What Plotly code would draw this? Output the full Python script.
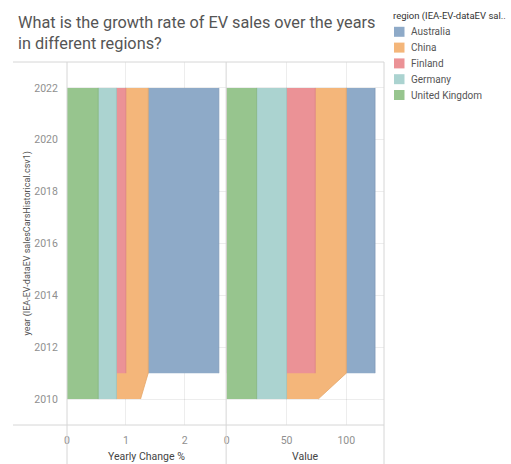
import plotly.graph_objects as go

# ---- data -------------------------------------------------------------
years = list(range(2010, 2023))

regions = ["Australia", "China", "Finland", "Germany", "United Kingdom"]
colors = ["#8eaac8", "#f4b67a", "#eb9296", "#abd3d0", "#97c58e"]
edges = ["#7f9bb9", "#e5a76b", "#dc8387", "#9cc4c1", "#88b67f"]

# Yearly Change % per region (None = no record that year)
yc_australia = [None] + [1.20] * 12
yc_china = [0.41] + [0.38] * 12
yc_finland = [None] + [0.16] * 12
yc_germany = [0.31] * 13
yc_uk = [0.53] * 13

# Value per region
val_australia = [None] + [24] * 12
val_china = [26.5] + [26] * 12
val_finland = [None] + [24] * 12
val_germany = [25] * 13
val_uk = [25] * 13

yearly_change = {
    "Australia": yc_australia, "China": yc_china, "Finland": yc_finland,
    "Germany": yc_germany, "United Kingdom": yc_uk,
}
value = {
    "Australia": val_australia, "China": val_china, "Finland": val_finland,
    "Germany": val_germany, "United Kingdom": val_uk,
}

# stacking order from the axis outward
stack_order = ["United Kingdom", "Germany", "Finland", "China", "Australia"]


def cumulative(table):
    """Running totals per year along the stack; None where a region is absent."""
    out = {}
    running = [0.0] * len(years)
    for r in stack_order:
        col = []
        for i, v in enumerate(table[r]):
            if v is None:
                col.append(None)
            else:
                running[i] += v
                col.append(running[i])
        out[r] = col
    return out


cum_yc = cumulative(yearly_change)
cum_val = cumulative(value)

# ---- figure -----------------------------------------------------------
W, H = 511, 464
ML, MR, MT, MB = 67, 127, 62, 39
PW, PH = W - ML - MR, H - MT - MB
split = 0.502

FONT = "Roboto, sans-serif"

fig = go.Figure()

# larger totals first so the smaller stacks sit on top of them
for r in reversed(stack_order):
    i = regions.index(r)
    for cum, xa in ((cum_yc, "x"), (cum_val, "x2")):
        xs = [c for c in cum[r] if c is not None]
        ys = [y for y, c in zip(years, cum[r]) if c is not None]
        fig.add_trace(go.Scatter(
            x=xs, y=ys, xaxis=xa, yaxis="y",
            mode="lines", fill="tozerox", fillcolor=colors[i],
            line=dict(color=edges[i], width=0.8),
            name=r, showlegend=False, hoverinfo="skip",
        ))


def px_x(px):
    return (px - ML) / PW


def px_y(py):
    return (MT + PH - py) / PH


grid = "rgba(0,0,0,0.07)"
tickfont = dict(family=FONT, size=10.5, color="#8f8f8f")

fig.update_layout(
    width=W, height=H,
    margin=dict(l=ML, r=MR, t=MT, b=MB, pad=0),
    paper_bgcolor="white", plot_bgcolor="white",
    font=dict(family=FONT),
    xaxis=dict(domain=[0, split], range=[0, 2.704], tickvals=[0, 1, 2],
               showgrid=True, gridcolor=grid, zeroline=False, showline=False,
               ticks="outside", ticklen=5, tickcolor="rgba(0,0,0,0)",
               tickfont=tickfont, layer="above traces", fixedrange=True),
    xaxis2=dict(domain=[split, 1], range=[-0.5, 131.5], tickvals=[0, 50, 100],
                anchor="y", showgrid=True, gridcolor=grid, zeroline=False,
                showline=False, ticks="outside", ticklen=5,
                tickcolor="rgba(0,0,0,0)", tickfont=tickfont,
                layer="above traces", fixedrange=True),
    yaxis=dict(range=[2009, 2023], tickvals=list(range(2010, 2023, 2)),
               showgrid=True, gridcolor=grid, zeroline=False, showline=False,
               ticks="outside", ticklen=6, tickcolor="rgba(0,0,0,0)",
               tickfont=tickfont, layer="above traces", fixedrange=True),
)

# frame and header dividers
line_c = "#d6d6d6"
shapes = [
    dict(type="line", xref="paper", yref="paper", x0=px_x(13), x1=1, y0=1, y1=1),
    dict(type="line", xref="paper", yref="paper", x0=px_x(13), x1=1, y0=0, y1=0),
    dict(type="line", xref="paper", yref="paper", x0=0, x1=0, y0=px_y(H), y1=1),
    dict(type="line", xref="paper", yref="paper", x0=split, x1=split, y0=px_y(H), y1=1),
    dict(type="line", xref="paper", yref="paper", x0=1, x1=1, y0=px_y(H), y1=1),
]
for s in shapes:
    s["line"] = dict(color=line_c, width=1)
    s["layer"] = "above"

annotations = []

# title
annotations.append(dict(
    xref="paper", yref="paper", x=px_x(16), y=px_y(32.5),
    xanchor="left", yanchor="middle", align="left", showarrow=False,
    text="What is the growth rate of EV sales over the years<br>in different regions?",
    font=dict(family=FONT, size=16.3, color="#555555"),
))

# axis titles
annotations.append(dict(
    xref="paper", yref="paper", x=split / 2, y=px_y(456.5),
    xanchor="center", yanchor="middle", showarrow=False,
    text="Yearly Change %", font=dict(family=FONT, size=10.5, color="#444444"),
))
annotations.append(dict(
    xref="paper", yref="paper", x=(split + 1) / 2, y=px_y(456.5),
    xanchor="center", yanchor="middle", showarrow=False,
    text="Value", font=dict(family=FONT, size=10.5, color="#444444"),
))
annotations.append(dict(
    xref="paper", yref="paper", x=px_x(27), y=0.5,
    xanchor="center", yanchor="middle", showarrow=False, textangle=-90,
    text="year (IEA-EV-dataEV salesCarsHistorical.csv1)",
    font=dict(family=FONT, size=9, color="#555555"),
))

# colour legend
annotations.append(dict(
    xref="paper", yref="paper", x=px_x(391), y=px_y(15.5),
    xanchor="left", yanchor="middle", showarrow=False,
    text="region (IEA-EV-dataEV sal..", font=dict(family=FONT, size=9.5, color="#333333"),
))
for k, r in enumerate(regions):
    cy = 31.8 + 15.8 * k
    shapes.append(dict(
        type="rect", xref="paper", yref="paper",
        x0=px_x(394), x1=px_x(404.5), y0=px_y(cy + 5), y1=px_y(cy - 5),
        fillcolor=colors[k], line=dict(width=0),
    ))
    annotations.append(dict(
        xref="paper", yref="paper", x=px_x(409), y=px_y(cy),
        xanchor="left", yanchor="middle", showarrow=False,
        text=r, font=dict(family=FONT, size=10, color="#555555"),
    ))

fig.update_layout(shapes=shapes, annotations=annotations)

fig.write_html("out.html")
